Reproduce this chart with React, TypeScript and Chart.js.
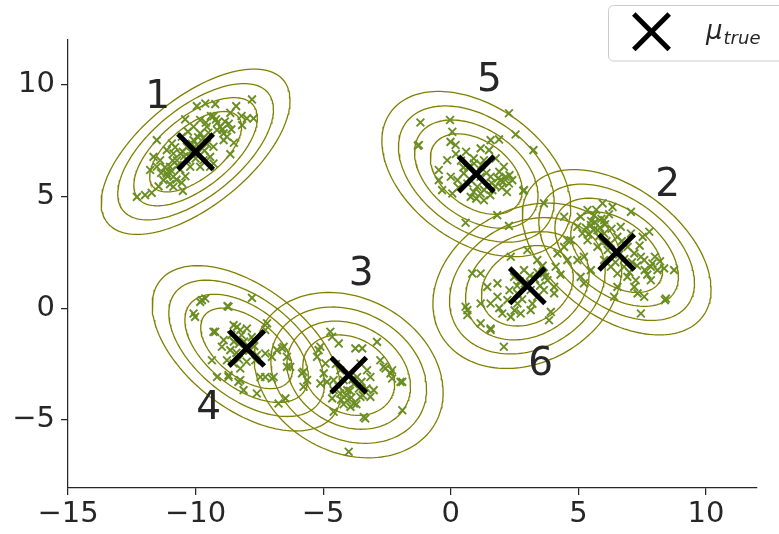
import React, { useEffect, useRef } from "react";
import { Chart, registerables } from "chart.js";
Chart.register(...registerables);

const X_TICKS = [-15, -10, -5, 0, 5, 10];
const Y_TICKS = [-5, 0, 5, 10];
const X_MIN = -15;
const X_MAX = 12;
const Y_MIN = -8.05;
const Y_MAX = 12;

const CLUSTER_IDS = ["1", "2", "3", "4", "5", "6"];
const MU_X = [-10, 6.5, -4, -8, 1, 3];
const MU_Y = [7, 2.5, -3, -1.8, 6, 1];
const RHO = [0.62, -0.45, -0.21, -0.52, -0.4, 0.22];
const CONTOUR_RADII = [1.8, 2.42, 3.05, 3.7];
const LABEL_X = [-11.49, 8.5, -3.51, -9.49, 1.51, 3.52];
const LABEL_Y = [9.61, 5.66, 1.66, -4.34, 10.34, -2.34];
const LEGEND_LABEL = "μ";
const LEGEND_SUB = "true";

const POINTS_1 = [
  [-7.79, 9.34], [-8.41, 9.04], [-9.23, 9.13], [-9.62, 9.16], [-9.95, 9.04], [-8.64, 8.74], [-7.99, 8.49],
  [-7.73, 8.49], [-8.18, 8.19], [-9.3, 8.59], [-10.41, 8.45], [-11.52, 7.52], [-11.65, 6.77], [-11.78, 6.18],
  [-12.3, 4.98], [-11.98, 5.06], [-11.72, 5.16], [-10.5, 5.25], [-10.54, 5.61], [-8.64, 6.89], [-8.9, 7.52],
  [-11.13, 6.03], [-11.26, 5.73], [-11.0, 6.33], [-10.87, 5.88], [-10.73, 6.62], [-10.6, 6.92], [-10.34, 7.22],
  [-10.08, 7.52], [-9.82, 7.82], [-9.56, 8.12], [-9.16, 7.97], [-8.9, 7.82], [-8.77, 7.67], [-9.03, 8.12],
  [-9.82, 8.42], [-10.08, 8.12], [-10.21, 6.33], [-10.34, 6.62], [-9.69, 6.62], [-9.43, 6.77], [-9.3, 7.22],
  [-10.87, 6.92], [-11.13, 7.07], [-10.93, 7.37], [-10.54, 7.67], [-11.52, 6.33], [-11.39, 6.62], [-10.87, 5.43],
  [-9.82, 6.33], [-9.43, 6.33], [-9.3, 6.47], [-11.0, 5.55], [-11.35, 6.05], [-10.95, 6.15], [-10.7, 6.4],
  [-10.45, 6.8], [-10.2, 7.0], [-9.95, 7.3], [-9.7, 7.6], [-9.5, 7.85], [-9.15, 8.3], [-8.85, 8.35], [-8.6, 8.0],
  [-9.4, 8.6], [-9.65, 7.05], [-10.0, 6.7], [-10.6, 6.2], [-11.1, 5.9], [-10.3, 7.9], [-8.5, 7.4], [-8.2, 8.6],
  [-11.2, 6.3], [-10.9, 6.6], [-10.5, 7.0], [-10.15, 7.35], [-9.9, 7.65], [-9.6, 8.3], [-9.2, 8.45], [-8.95, 8.0],
  [-10.75, 5.75], [-11.45, 5.45], [-10.4, 5.9], [-9.55, 7.35], [-10.8, 7.2], [-8.7, 8.25], [-9.9, 6.95],
];

const POINTS_2 = [
  [5.95, 4.69], [6.34, 4.53], [7.06, 4.31], [7.78, 3.42], [7.52, 3.19], [5.36, 4.39], [5.09, 4.09], [4.96, 3.64],
  [5.16, 3.34], [5.49, 3.72], [5.75, 3.49], [5.36, 3.04], [5.75, 2.74], [6.01, 2.15], [6.27, 1.85], [6.53, 1.55],
  [6.92, 1.4], [7.19, 0.95], [7.32, 0.66], [7.58, 2.15], [7.84, 1.85], [8.1, 1.7], [8.36, 1.78], [8.75, 1.7],
  [8.43, 0.43], [7.45, -0.24], [6.4, 0.51], [6.53, 0.95], [6.27, 2.9], [6.93, 2.74], [7.19, 2.45], [7.06, 3.34],
  [6.66, 3.64], [6.01, 3.94], [5.62, 4.16], [5.22, 2.3], [5.49, 1.7], [4.57, 3.04], [4.44, 4.09], [3.65, 4.69],
  [7.84, 1.25], [7.58, 0.51], [6.79, 1.85], [6.01, 3.34], [6.53, 3.19], [8.39, 0.36], [5.5, 3.9], [5.8, 3.2],
  [6.1, 3.0], [5.9, 4.0], [5.3, 3.6], [6.8, 2.2], [7.3, 1.9], [7.0, 1.6], [7.7, 1.5], [8.0, 2.3], [6.6, 2.4],
  [5.6, 3.5], [7.4, 2.8], [6.2, 4.2], [5.7, 4.4], [5.65, 3.85], [5.85, 3.6], [6.05, 3.75], [5.4, 3.3],
  [6.3, 3.55], [6.15, 2.6], [7.1, 2.05], [7.45, 2.3], [7.9, 2.0], [7.6, 1.7], [8.2, 2.1], [6.45, 2.05],
  [5.95, 2.95], [6.7, 3.0], [7.25, 1.25],
];

const POINTS_3 = [
  [-4.72, -1.06], [-4.65, -1.28], [-4.39, -1.58], [-3.74, -1.8], [-3.47, -1.8], [-2.89, -1.51], [-5.11, -1.73],
  [-5.24, -2.18], [-4.91, -2.48], [-4.98, -2.92], [-4.85, -3.3], [-4.59, -3.67], [-4.65, -4.04], [-4.33, -3.82],
  [-4.06, -4.12], [-3.8, -4.27], [-3.54, -3.97], [-3.15, -3.97], [-3.41, -4.87], [-3.93, -4.42], [-3.02, -3.67],
  [-3.15, -3.08], [-3.28, -2.78], [-3.54, -2.48], [-4.33, -2.78], [-4.2, -3.22], [-4.59, -3.22], [-5.11, -3.37],
  [-5.63, -3.22], [-2.56, -2.7], [-2.36, -2.92], [-2.3, -3.15], [-1.97, -3.3], [-1.9, -4.57], [-4.0, -6.43],
  [-2.76, -2.33], [-5.18, -1.88], [-5.83, -2.92], [-5.77, -3.52], [-3.67, -3.08], [-4.06, -3.67], [-2.63, -2.63],
  [-3.35, -4.94], [-4.59, -4.64], [-2.3, -2.78], [-1.9, -3.3], [-3.8, -3.4], [-3.6, -3.6], [-4.1, -3.9],
  [-3.9, -4.0], [-3.7, -4.3], [-4.2, -4.3], [-3.5, -3.3], [-4.4, -3.5], [-3.3, -3.6], [-3.95, -3.7],
  [-3.45, -3.9], [-4.3, -4.1], [-3.85, -3.2], [-4.5, -2.5],
];

const POINTS_4 = [
  [-9.75, 0.36], [-9.62, 0.43], [-10.08, -0.24], [-10.02, -0.39], [-8.75, 0.09], [-7.79, 0.46], [-9.23, -1.06],
  [-8.38, -0.84], [-8.25, -0.98], [-7.99, -0.91], [-7.2, -0.68], [-8.9, -1.43], [-8.97, -1.73], [-8.64, -1.88],
  [-8.77, -2.33], [-8.51, -2.48], [-8.25, -2.7], [-9.16, -3.08], [-8.71, -3.08], [-8.32, -3.3], [-8.12, -3.67],
  [-7.6, -3.82], [-7.46, -3.08], [-7.66, -2.33], [-7.27, -2.03], [-7.01, -2.18], [-6.81, -1.88], [-6.55, -1.73],
  [-6.42, -2.18], [-7.01, -3.15], [-7.27, -3.08], [-6.94, -3.08], [-6.75, -4.27], [-6.48, -4.04], [-6.42, -2.63],
  [-5.77, -2.85], [-7.27, -0.98], [-7.73, -1.43], [-9.36, -2.33], [-8.71, -3.0], [-8.25, -3.22], [-6.61, -1.8],
  [-6.29, -2.63], [-9.3, -1.06], [-8.71, 0.06], [-9.82, 0.28], [-8.51, -0.76], [-8.1, -1.5], [-7.9, -1.9],
  [-8.3, -1.6], [-7.8, -1.3], [-8.6, -1.2], [-7.6, -2.1], [-8.0, -2.4], [-8.4, -2.0], [-8.2, -1.2],
  [-7.7, -1.7], [-8.5, -1.5], [-8.3, -2.3],
];

const POINTS_5 = [
  [2.28, 8.72], [-1.19, 8.31], [-0.03, 8.42], [0.06, 7.89], [-1.29, 7.27], [2.54, 7.77], [3.24, 7.07],
  [1.56, 7.52], [1.89, 7.55], [0.19, 7.3], [-0.01, 7.44], [1.17, 7.15], [1.5, 7.07], [-0.14, 6.62], [2.08, 6.33],
  [-0.47, 6.18], [-0.47, 5.73], [0.0, 5.88], [0.26, 5.73], [-0.34, 5.28], [0.06, 5.13], [0.78, 4.98], [1.17, 5.13],
  [1.3, 4.83], [1.63, 5.28], [1.95, 5.73], [2.15, 5.88], [2.28, 5.58], [2.41, 5.73], [2.87, 5.28], [1.82, 4.16],
  [0.58, 3.82], [2.28, 3.68], [0.91, 6.47], [1.3, 6.62], [1.56, 5.88], [0.65, 5.58], [0.51, 6.03], [1.04, 5.43],
  [1.43, 5.43], [1.76, 6.7], [1.17, 5.88], [-1.25, 7.3], [2.84, 5.25], [0.7, 6.3], [1.2, 6.4], [0.4, 6.6],
  [0.9, 5.2], [1.6, 5.6], [2.0, 5.4], [0.3, 5.4], [0.2, 6.9], [0.6, 7.0], [1.9, 6.1], [2.2, 5.2], [1.0, 4.9],
  [1.75, 5.45], [1.85, 5.8], [2.05, 5.65], [1.4, 6.05], [0.9, 6.7], [0.5, 6.3], [1.3, 5.3], [0.8, 5.7],
  [2.3, 5.95], [1.55, 5.05],
];

const POINTS_6 = [
  [0.84, 1.55], [1.17, 1.55], [1.43, 0.95], [1.83, 1.11], [0.58, 0.06], [1.17, 0.21], [0.65, -0.31], [1.17, -0.68],
  [1.56, -0.91], [2.08, -1.73], [2.02, -0.24], [2.35, -0.39], [2.74, -0.24], [3.13, -0.09], [3.85, -0.54],
  [3.92, -0.17], [1.83, 0.51], [2.22, 0.36], [2.61, 0.66], [2.48, 1.4], [2.87, 1.7], [3.0, 2.6], [3.39, 2.15],
  [3.65, 1.55], [3.79, 1.25], [4.05, 0.95], [3.65, 0.81], [4.11, 1.85], [4.57, 2.15], [4.44, 2.74], [4.18, 2.45],
  [4.96, 2.15], [5.09, 1.4], [5.22, 1.11], [2.35, 2.3], [4.7, 3.04], [3.13, 0.81], [3.39, 0.51], [1.56, 0.21],
  [2.61, 0.21], [0.65, -0.09], [1.56, -0.98], [4.05, 0.66], [3.3, 1.3], [3.5, 1.0], [2.9, 1.1], [3.6, 1.9],
  [2.6, 1.0], [3.2, 0.2], [2.8, 0.4], [4.3, 1.5], [3.4, 1.6], [3.1, 1.45], [2.7, 1.2], [3.7, 1.4], [2.3, 0.8],
  [1.9, 0.0], [2.5, -0.1],
];

const ALL_POINTS = [POINTS_1, POINTS_2, POINTS_3, POINTS_4, POINTS_5, POINTS_6];

const TEXT = "#262626";
const POINT_COLOR = "#6b8e23";
const CONTOUR_COLOR = "#808000";
const FONT = "'DejaVu Sans', sans-serif";

function ellipse(cx: number, cy: number, r: number, rho: number) {
  const pts: { x: number; y: number }[] = [];
  const n = 160;
  const s = Math.sqrt(1 - rho * rho);
  for (let i = 0; i <= n; i++) {
    const t = (2 * Math.PI * i) / n;
    pts.push({ x: cx + r * Math.cos(t), y: cy + r * (rho * Math.cos(t) + s * Math.sin(t)) });
  }
  return pts;
}

const overlayPlugin = {
  id: "overlay",
  afterDatasetsDraw(chart: any) {
    const { ctx } = chart;
    const xs = chart.scales.x;
    const ys = chart.scales.y;
    ctx.save();
    ctx.fillStyle = TEXT;
    ctx.font = `39px ${FONT}`;
    ctx.textAlign = "center";
    ctx.textBaseline = "alphabetic";
    CLUSTER_IDS.forEach((id, i) => {
      ctx.fillText(id, xs.getPixelForValue(LABEL_X[i]), ys.getPixelForValue(LABEL_Y[i]) + 0.365 * 39);
    });
    ctx.beginPath();
    (ctx as any).roundRect(608.5, 5.5, 200, 55.5, 5);
    ctx.fillStyle = "rgba(255,255,255,0.8)";
    ctx.fill();
    ctx.strokeStyle = "#cccccc";
    ctx.lineWidth = 1;
    ctx.stroke();
    const cx = 651.5, cy = 31.7, d = 17.7;
    ctx.beginPath();
    ctx.moveTo(cx - d, cy - d);
    ctx.lineTo(cx + d, cy + d);
    ctx.moveTo(cx - d, cy + d);
    ctx.lineTo(cx + d, cy - d);
    ctx.strokeStyle = "#000";
    ctx.lineWidth = 5;
    ctx.stroke();
    ctx.fillStyle = TEXT;
    ctx.textAlign = "left";
    ctx.font = `italic 26px ${FONT}`;
    ctx.fillText(LEGEND_LABEL, 706, 39);
    const w = ctx.measureText(LEGEND_LABEL).width;
    ctx.font = `italic 18px ${FONT}`;
    ctx.fillText(LEGEND_SUB, 706 + w + 1, 44);
    ctx.restore();
  },
};

export default function App() {
  const ref = useRef<HTMLCanvasElement>(null);
  useEffect(() => {
    document.body.style.margin = "0";
    const datasets: any[] = [];
    MU_X.forEach((_, i) => {
      CONTOUR_RADII.forEach((r) => {
        datasets.push({
          type: "scatter",
          data: ellipse(MU_X[i], MU_Y[i], r, RHO[i]),
          showLine: true,
          borderColor: CONTOUR_COLOR,
          borderWidth: 1.3,
          pointRadius: 0,
          fill: false,
          order: 3,
        });
      });
    });
    ALL_POINTS.forEach((pts) => {
      datasets.push({
        type: "scatter",
        data: pts.map(([x, y]) => ({ x, y })),
        pointStyle: "crossRot",
        pointRadius: 5.5,
        borderWidth: 1.9,
        borderColor: POINT_COLOR,
        backgroundColor: POINT_COLOR,
        order: 2,
      });
    });
    datasets.push({
      type: "scatter",
      data: MU_X.map((x, i) => ({ x, y: MU_Y[i] })),
      pointStyle: "crossRot",
      pointRadius: 25,
      borderWidth: 5,
      borderColor: "#000",
      backgroundColor: "#000",
      order: 1,
    });
    const chart = new Chart(ref.current!, {
      type: "scatter",
      data: { datasets },
      options: {
        animation: false,
        responsive: false,
        devicePixelRatio: 1,
        layout: { autoPadding: false, padding: { left: 0, right: 22, top: 40, bottom: 0 } },
        plugins: { legend: { display: false }, tooltip: { enabled: false } },
        scales: {
          x: {
            type: "linear",
            min: X_MIN,
            max: X_MAX,
            afterBuildTicks: (s: any) => {
              s.ticks = X_TICKS.map((v) => ({ value: v }));
            },
            afterFit: (s: any) => {
              s.height = 46;
              s.paddingLeft = 0;
              s.paddingRight = 0;
            },
            grid: { drawOnChartArea: false, drawTicks: true, tickLength: 7, color: TEXT, lineWidth: 1.25 },
            border: { display: true, color: TEXT, width: 1.25 },
            ticks: {
              color: TEXT,
              font: { family: FONT, size: 29 },
              padding: 2,
              maxRotation: 0,
              autoSkip: false,
              callback: (v: any) => String(v).replace("-", "\u2212"),
            },
          },
          y: {
            type: "linear",
            min: Y_MIN,
            max: Y_MAX,
            afterBuildTicks: (s: any) => {
              s.ticks = Y_TICKS.map((v) => ({ value: v }));
            },
            afterFit: (s: any) => {
              s.width = 68;
              s.paddingTop = 0;
              s.paddingBottom = 0;
            },
            grid: { drawOnChartArea: false, drawTicks: true, tickLength: 7, color: TEXT, lineWidth: 1.25 },
            border: { display: true, color: TEXT, width: 1.25 },
            ticks: {
              color: TEXT,
              font: { family: FONT, size: 29 },
              padding: 6,
              autoSkip: false,
              callback: (v: any) => String(v).replace("-", "\u2212"),
            },
          },
        },
      },
      plugins: [overlayPlugin],
    });
    return () => chart.destroy();
  }, []);
  return (
    <div style={{ width: 779, height: 534 }}>
      <canvas ref={ref} width={779} height={534} style={{ display: "block" }} />
    </div>
  );
}
